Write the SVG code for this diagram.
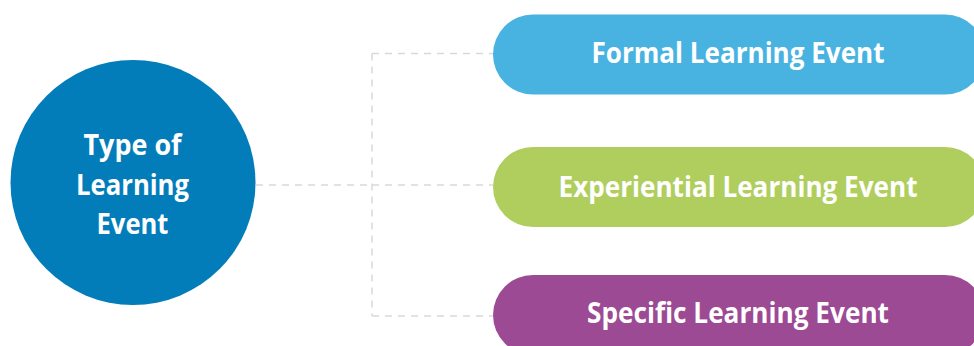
<svg xmlns="http://www.w3.org/2000/svg" width="974" height="346" viewBox="0 0 974 346">
<style>
.conn{fill:none;stroke:#D3DADD;stroke-width:1.5;stroke-dasharray:7 6}
.lbl{font-family:"Open Sans","Liberation Sans",sans-serif;font-weight:bold;font-size:28px;fill:#FFFFFF;text-anchor:middle}
</style>
<rect width="974" height="346" fill="#FFFFFF"/>
<g id="connectors">
<path class="conn" d="M256 185 H372"/>
<path class="conn" d="M372 53.5 V316"/>
<path class="conn" d="M372 53.5 H493"/>
<path class="conn" d="M372 185 H493"/>
<path class="conn" d="M372 316 H493"/>
</g>
<g id="root">
<circle cx="133" cy="182.5" r="122.5" fill="#037DBA"/>
<text class="lbl" x="132.5" y="155" textLength="98" lengthAdjust="spacingAndGlyphs">Type of</text>
<text class="lbl" x="132.5" y="195" textLength="113" lengthAdjust="spacingAndGlyphs">Learning</text>
<text class="lbl" x="132.5" y="234" textLength="72" lengthAdjust="spacingAndGlyphs">Event</text>
</g>
<g id="formal">
<rect x="493" y="14.5" width="492" height="80" rx="40" fill="#48B3E1"/>
<text class="lbl" x="738" y="63" textLength="293" lengthAdjust="spacingAndGlyphs">Formal Learning Event</text>
</g>
<g id="experiential">
<rect x="493" y="147" width="492" height="80" rx="40" fill="#B0CE5E"/>
<text class="lbl" x="738" y="196.5" textLength="359" lengthAdjust="spacingAndGlyphs">Experiential Learning Event</text>
</g>
<g id="specific">
<rect x="493" y="275" width="492" height="80" rx="40" fill="#9C4A93"/>
<text class="lbl" x="738" y="323" textLength="302" lengthAdjust="spacingAndGlyphs">Specific Learning Event</text>
</g>
</svg>
